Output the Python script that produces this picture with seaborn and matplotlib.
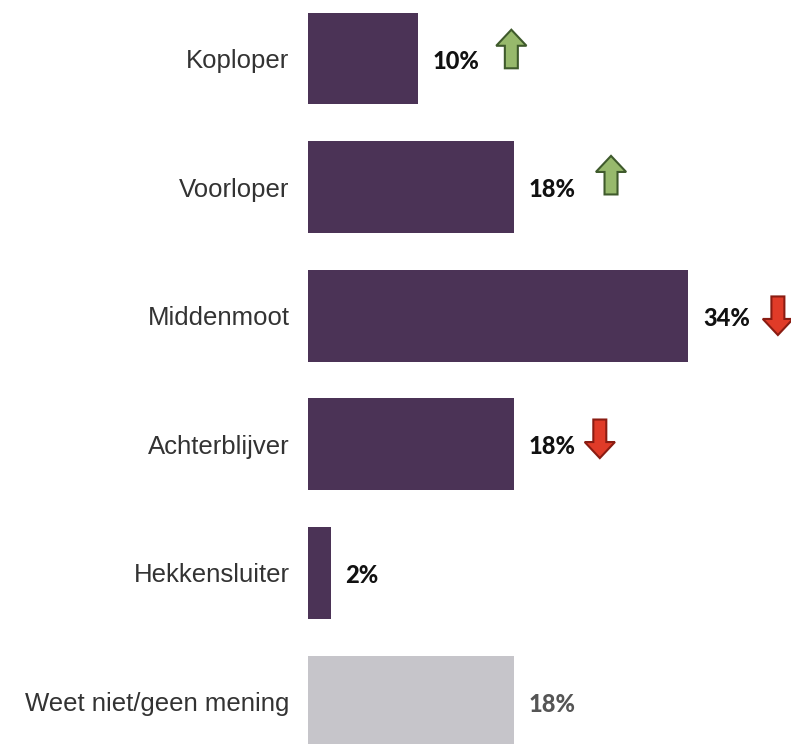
import numpy as np
import pandas as pd
import matplotlib.pyplot as plt
from matplotlib.patches import FancyArrow
import seaborn as sns

# Data
categories = ['Koploper', 'Voorloper', 'Middenmoot', 'Achterblijver', 'Hekkensluiter', 'Weet niet/geen mening']
values = [9.9, 18.4, 34.0, 18.4, 2.1, 18.4]
trends = ['up', 'up', 'down', 'down', None, None]

# Style
bar_colors = ['#4b3356'] * 5 + ['#c6c5ca']
label_colors = ['#111111'] * 5 + ['#555555']
arrow_dx = [8.3, 8.7, 8.0, 7.7, 0, 0]      # arrow centre right of bar end
arrow_dy = [-0.074, -0.093, 0.0, -0.043, 0, 0]
arrow_style = {
    'up': dict(fc='#97b96c', ec='#3f5a2c'),
    'down': dict(fc='#e03b28', ec='#8a1c12'),
}

df = pd.DataFrame({'cat': categories, 'val': values})

sns.set_style('white')
fig = plt.figure(figsize=(7.91, 7.44), dpi=100)
ax = fig.add_axes([307.5 / 791, 0, 1 - 307.5 / 791, 1])

sns.barplot(data=df, x='val', y='cat', hue='cat', palette=bar_colors,
            legend=False, width=0.715, ax=ax, saturation=1, linewidth=0)

ax.set_xlim(0, 43.17)
ax.set_ylim(5.33, -0.455)
sns.despine(ax=ax, left=True, bottom=True)
ax.set_xticks([])
ax.set_xlabel('')
ax.set_ylabel('')
ax.tick_params(axis='y', length=0, pad=13)
for lbl in ax.get_yticklabels():
    lbl.set_fontfamily('Liberation Sans')
    lbl.set_fontsize(18.5)
    lbl.set_color('#333333')

for i, v in enumerate(values):
    ax.text(v + 1.3, i + 0.02, f'{v:.0f}%', va='center', ha='left',
            fontsize=17, fontweight='black', family='Lato', color=label_colors[i])
    t = trends[i]
    if t is None:
        continue
    x = v + arrow_dx[i]
    yc = i + arrow_dy[i]
    sign = -1 if t == 'up' else 1
    arr = FancyArrow(x, yc - sign * 0.15, 0, sign * 0.30, width=1.16,
                     head_width=2.7, head_length=0.125,
                     length_includes_head=True, lw=1.5, **arrow_style[t])
    arr.set_clip_on(False)
    ax.add_patch(arr)

fig.savefig('out.png', dpi=100)
